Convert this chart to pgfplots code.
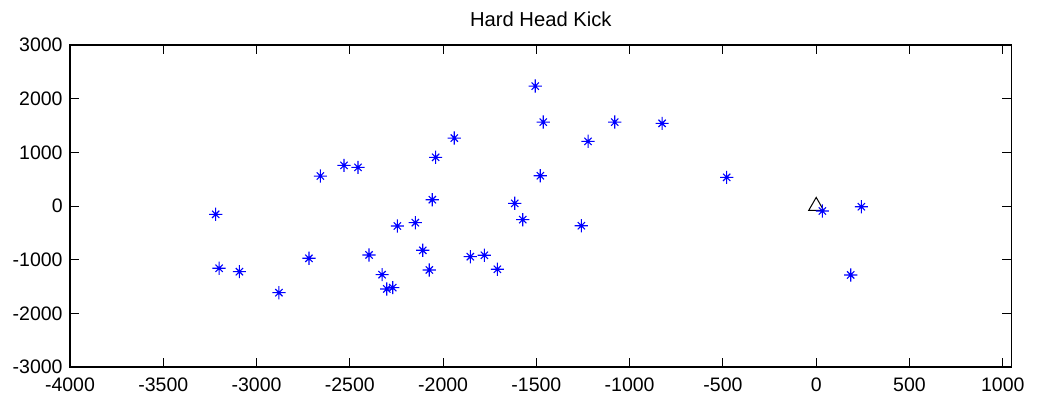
\documentclass[border=0pt]{standalone}
\usepackage{pgfplots}
\pgfplotsset{compat=1.18}
\usepackage{fontspec}
\setmainfont{Liberation Sans}
\pgfdeclareplotmark{mstar}{%
 \pgfpathmoveto{\pgfqpoint{-\pgfplotmarksize}{0pt}}\pgfpathlineto{\pgfqpoint{\pgfplotmarksize}{0pt}}%
 \pgfpathmoveto{\pgfqpoint{0pt}{-\pgfplotmarksize}}\pgfpathlineto{\pgfqpoint{0pt}{\pgfplotmarksize}}%
 \pgfpathmoveto{\pgfqpoint{-0.55\pgfplotmarksize}{-0.55\pgfplotmarksize}}\pgfpathlineto{\pgfqpoint{0.55\pgfplotmarksize}{0.55\pgfplotmarksize}}%
 \pgfpathmoveto{\pgfqpoint{-0.55\pgfplotmarksize}{0.55\pgfplotmarksize}}\pgfpathlineto{\pgfqpoint{0.55\pgfplotmarksize}{-0.55\pgfplotmarksize}}%
 \pgfusepathqstroke}
\begin{document}
\begin{tikzpicture}
\path[use as bounding box] (-35pt,-15pt) rectangle (486pt,183.5pt);
\begin{axis}[
  at={(0,0)}, anchor=south west,
  scale only axis, width=470.85pt, height=161pt,
  xmin=-4000, xmax=1048, ymin=-3000, ymax=3000,
  xtick={-4000,-3500,-3000,-2500,-2000,-1500,-1000,-500,0,500,1000},
  xticklabels={-4000,-3500,-3000,-2500,-2000,-1500,-1000,-500,0,500,1000},
  ytick={-3000,-2000,-1000,0,1000,2000,3000},
  yticklabels={-3000,-2000,-1000,0,1000,2000,3000},
  tick align=inside, tick pos=both, major tick length=4.7pt,
  tick style={black, line width=0.5pt},
  axis line style={black, line width=0.6pt},
  font=\fontsize{9.75}{11}\selectfont,
  xticklabel style={inner sep=0pt, anchor=north, yshift=-5pt},
  yticklabel style={inner sep=0pt, anchor=east, xshift=-3.5pt},
  title={Hard Head Kick},
  title style={at={(0.5,1)}, anchor=base, yshift=3.5pt, inner sep=0pt, font=\fontsize{10.1}{12}\selectfont},
  clip=false,
]
\addplot[only marks, mark=triangle, mark size=4.3pt, black, line width=0.5pt] coordinates {(0,0)};
\addplot[only marks, mark=mstar, mark size=3.3pt, color=blue, line width=0.55pt] coordinates {
(-3219,-155) (-3201,-1160) (-3092,-1223) (-2880,-1615) (-2719,-974)
(-2658,558) (-2531,757) (-2456,720) (-2397,-912) (-2327,-1279)
(-2302,-1546) (-2270,-1521) (-2245,-372) (-2149,-311) (-2109,-825)
(-2074,-1192) (-2058,117) (-2040,907) (-1940,1266) (-1854,-944)
(-1779,-918) (-1709,-1179) (-1506,2235) (-1463,1564) (-1479,564)
(-1616,50) (-1573,-255) (-1259,-367) (-1223,1205) (-1080,1564)
(-826,1540) (-480,534) (33,-93) (242,-13) (185,-1285)
};
\end{axis}
\end{tikzpicture}
\end{document}
